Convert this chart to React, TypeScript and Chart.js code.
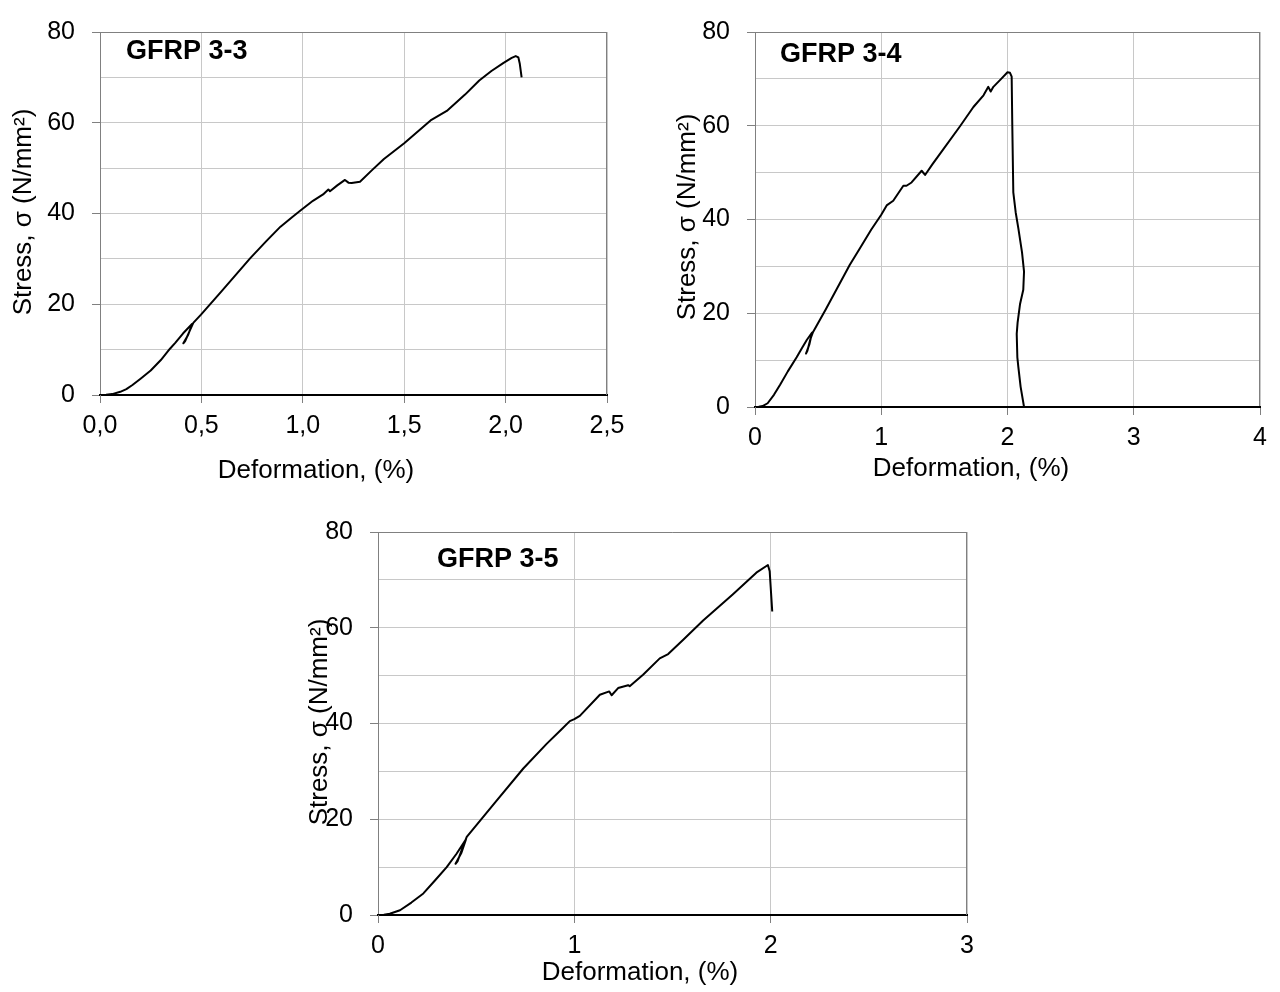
import React, { useEffect, useRef } from 'react';
import { Chart, registerables } from 'chart.js';

Chart.register(...registerables);

// ---------------- data ----------------
const yTickLabels = ['0', '20', '40', '60', '80'];
const xTickLabels33 = ['0,0', '0,5', '1,0', '1,5', '2,0', '2,5'];
const xTickLabels34 = ['0', '1', '2', '3', '4'];
const xTickLabels35 = ['0', '1', '2', '3'];

const xAxisTitle = 'Deformation, (%)';
const yAxisTitle = 'Stress, σ (N/mm²)';

const name33 = 'GFRP 3-3';
const name34 = 'GFRP 3-4';
const name35 = 'GFRP 3-5';

const strain33 = [0, 0.03, 0.06, 0.10, 0.13, 0.16, 0.20, 0.25, 0.30, 0.345, 0.371, 0.41, 0.455, 0.435, 0.411, 0.42, 0.445, 0.46, 0.498, 0.60, 0.74, 0.82, 0.89, 0.95, 0.99, 1.05, 1.10, 1.126, 1.134, 1.17, 1.208, 1.225, 1.241, 1.282, 1.34, 1.40, 1.50, 1.63, 1.71, 1.80, 1.87, 1.93, 1.99, 2.03, 2.05, 2.063, 2.07, 2.079];
const stress33 = [0, 0.05, 0.2, 0.7, 1.3, 2.2, 3.6, 5.4, 7.7, 10.2, 11.5, 13.6, 15.7, 13.3, 11.4, 11.9, 14.4, 15.9, 17.7, 22.9, 30.1, 33.9, 37.1, 39.3, 40.7, 42.8, 44.2, 45.3, 44.9, 46.2, 47.4, 46.8, 46.7, 47.0, 49.5, 52.0, 55.5, 60.5, 62.6, 66.2, 69.3, 71.4, 73.2, 74.3, 74.7, 74.4, 73.0, 70.0];

const strain34 = [0, 0.03, 0.06, 0.10, 0.15, 0.20, 0.26, 0.33, 0.37, 0.41, 0.452, 0.43, 0.404, 0.415, 0.44, 0.46, 0.56, 0.75, 0.83, 0.92, 1.0, 1.043, 1.095, 1.175, 1.2, 1.24, 1.32, 1.347, 1.406, 1.465, 1.624, 1.73, 1.81, 1.848, 1.867, 1.888, 1.95, 2.0, 2.02, 2.033, 2.038, 2.046, 2.065, 2.086, 2.115, 2.131, 2.125, 2.099, 2.08, 2.073, 2.078, 2.086, 2.104, 2.131, 4.0];
const stress34 = [0, 0.05, 0.2, 0.8, 2.6, 4.8, 7.6, 10.6, 12.5, 14.3, 15.9, 13.3, 11.4, 12.0, 14.6, 16.0, 20.8, 30.3, 33.8, 37.8, 41.0, 43.0, 44.0, 47.2, 47.2, 47.9, 50.4, 49.5, 51.8, 54.0, 59.9, 64.0, 66.5, 68.3, 67.3, 68.3, 70.0, 71.4, 71.3, 70.5, 60.0, 45.8, 41.5, 38.1, 33.0, 28.9, 25.0, 21.9, 18.0, 15.6, 10.6, 8.5, 4.3, 0, 0];

const strain35 = [0, 0.03, 0.06, 0.112, 0.17, 0.231, 0.29, 0.35, 0.40, 0.448, 0.425, 0.395, 0.405, 0.43, 0.452, 0.6, 0.74, 0.86, 0.93, 0.977, 1.0, 1.028, 1.13, 1.178, 1.19, 1.223, 1.274, 1.282, 1.35, 1.435, 1.478, 1.56, 1.656, 1.808, 1.927, 1.986, 1.995, 2.008];
const stress35 = [0, 0.05, 0.25, 1.0, 2.6, 4.5, 7.2, 10.0, 12.8, 15.8, 13.0, 10.7, 11.2, 14.0, 16.3, 23.7, 30.6, 35.8, 38.6, 40.5, 40.9, 41.6, 46.0, 46.7, 45.9, 47.4, 48.0, 47.8, 50.2, 53.6, 54.5, 57.7, 61.5, 67.0, 71.5, 73.1, 71.8, 63.4];

// ---------------- styling ----------------
const FONT = '"Liberation Sans", Arial, Helvetica, sans-serif';
const GRID = '#c8c8c8';
const AXIS_GRAY = '#808080';
const NONE = 'rgba(0,0,0,0)';

type Box = { left: number; top: number; width: number; height: number };
type Plot = { l: number; t: number; r: number; b: number };

type PanelProps = {
  box: Box;
  plot: Plot;
  strain: number[];
  stress: number[];
  xMax: number;
  xStep: number;
  xLabels: string[];
  name: string;
  namePos: [number, number];
  xTitlePos: [number, number];
  yTitlePos: [number, number];
};

function Panel(p: PanelProps) {
  const ref = useRef<HTMLCanvasElement | null>(null);

  useEffect(() => {
    const canvas = ref.current;
    if (!canvas) return;

    const decor = {
      id: 'decor',
      beforeDatasetsDraw(chart: any) {
        const { ctx, chartArea: a } = chart;
        ctx.save();
        ctx.strokeStyle = AXIS_GRAY;
        ctx.lineWidth = 1;
        ctx.beginPath();
        ctx.moveTo(a.left, Math.round(a.top) + 0.5);
        ctx.lineTo(a.right, Math.round(a.top) + 0.5);
        ctx.moveTo(Math.round(a.right) - 0.5, a.top);
        ctx.lineTo(Math.round(a.right) - 0.5, a.bottom);
        ctx.stroke();
        ctx.restore();
      },
      afterDraw(chart: any) {
        const ctx = chart.ctx;
        ctx.save();
        ctx.fillStyle = '#000';
        ctx.font = `bold 27px ${FONT}`;
        ctx.textAlign = 'left';
        ctx.textBaseline = 'middle';
        ctx.fillText(p.name, p.namePos[0], p.namePos[1]);
        ctx.font = `26px ${FONT}`;
        ctx.textAlign = 'center';
        ctx.fillText(xAxisTitle, p.xTitlePos[0], p.xTitlePos[1]);
        ctx.translate(p.yTitlePos[0], p.yTitlePos[1]);
        ctx.rotate(-Math.PI / 2);
        ctx.fillText(yAxisTitle, 0, 0);
        ctx.restore();
      },
    };

    const tickFont = { family: FONT, size: 25 };

    const chart = new Chart(canvas, {
      type: 'line',
      data: {
        datasets: [
          {
            data: p.strain.map((x, i) => ({ x, y: p.stress[i] })),
            borderColor: '#000',
            borderWidth: 2,
            pointRadius: 0,
            tension: 0,
            fill: false,
            borderJoinStyle: 'round',
          },
        ],
      },
      options: {
        animation: false,
        responsive: false,
        maintainAspectRatio: false,
        layout: {
          padding: { left: 0, top: p.plot.t, right: p.box.width - p.plot.r, bottom: 0 },
        },
        plugins: {
          legend: { display: false },
          tooltip: { enabled: false },
        },
        scales: {
          x: {
            type: 'linear',
            min: 0,
            max: p.xMax,
            afterFit: (s: any) => {
              s.height = p.box.height - p.plot.b;
            },
            ticks: {
              stepSize: p.xStep,
              autoSkip: false,
              maxRotation: 0,
              padding: 8,
              color: '#000',
              font: tickFont,
              callback: (v: any) => p.xLabels[Math.round(Number(v) / p.xStep)] ?? '',
            },
            grid: {
              color: (c: any) => (c.tick && c.tick.value > 0 ? GRID : NONE),
              tickColor: AXIS_GRAY,
              tickLength: 8,
              lineWidth: 1,
            },
            border: { color: '#000', width: 2 },
          },
          y: {
            type: 'linear',
            min: 0,
            max: 80,
            afterFit: (s: any) => {
              s.width = p.plot.l;
            },
            ticks: {
              stepSize: 10,
              autoSkip: false,
              padding: 17,
              color: '#000',
              font: tickFont,
              callback: (v: any) => {
                const n = Number(v);
                return n % 20 === 0 ? yTickLabels[Math.round(n / 20)] : '';
              },
            },
            grid: {
              color: (c: any) => (c.tick && c.tick.value > 0 ? GRID : NONE),
              tickColor: (c: any) => (c.tick && c.tick.value % 20 === 0 ? AXIS_GRAY : NONE),
              tickLength: 8,
              lineWidth: 1,
            },
            border: { color: AXIS_GRAY, width: 1 },
          },
        },
      },
      plugins: [decor],
    } as any);

    return () => chart.destroy();
  }, []);

  return (
    <canvas
      ref={ref}
      width={p.box.width}
      height={p.box.height}
      style={{
        position: 'absolute',
        left: p.box.left,
        top: p.box.top,
        width: p.box.width,
        height: p.box.height,
      }}
    />
  );
}

export default function App() {
  return (
    <div
      style={{
        position: 'fixed',
        left: 0,
        top: 0,
        width: 1280,
        height: 992,
        background: '#fff',
        overflow: 'hidden',
      }}
    >
      <Panel
        box={{ left: 0, top: 0, width: 640, height: 500 }}
        plot={{ l: 100, t: 18, r: 607, b: 395 }}
        strain={strain33}
        stress={stress33}
        xMax={2.5}
        xStep={0.5}
        xLabels={xTickLabels33}
        name={name33}
        namePos={[126, 52]}
        xTitlePos={[316, 471]}
        yTitlePos={[24, 212]}
      />
      <Panel
        box={{ left: 640, top: 0, width: 640, height: 500 }}
        plot={{ l: 115, t: 28, r: 620, b: 407 }}
        strain={strain34}
        stress={stress34}
        xMax={4}
        xStep={1}
        xLabels={xTickLabels34}
        name={name34}
        namePos={[140, 55]}
        xTitlePos={[331, 469]}
        yTitlePos={[48, 217]}
      />
      <Panel
        box={{ left: 240, top: 500, width: 800, height: 492 }}
        plot={{ l: 138, t: 27, r: 727, b: 415 }}
        strain={strain35}
        stress={stress35}
        xMax={3}
        xStep={1}
        xLabels={xTickLabels35}
        name={name35}
        namePos={[197, 60]}
        xTitlePos={[400, 473]}
        yTitlePos={[80, 222]}
      />
    </div>
  );
}
